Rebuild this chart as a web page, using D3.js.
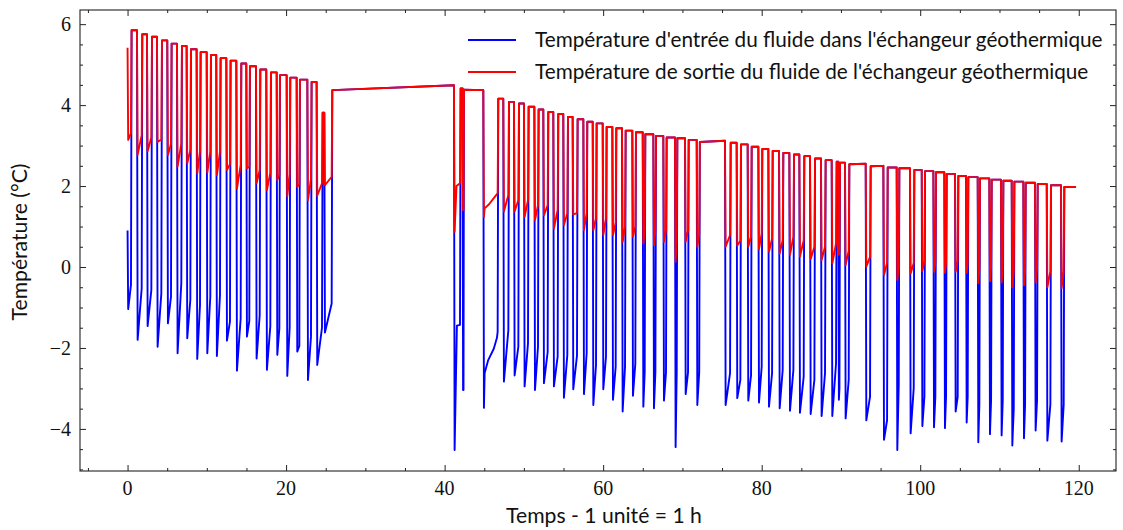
<!DOCTYPE html>
<html><head><meta charset="utf-8">
<script src="https://cdn.jsdelivr.net/npm/d3@7"></script>
<style>body{margin:0;background:#fff} svg{display:block}</style>
</head><body>
<svg id="c" width="1123" height="530"></svg>
<script>
// ---------- data ----------
const seriesNames = [
  "Température d'entrée du fluide dans l'échangeur géothermique",
  "Température de sortie du fluide de l'échangeur géothermique"
];
const startTime = 0, startOutlet = 5.42, startInlet = 0.90;
const endTime = 119.66;
// pump-on instants (h) and pump-off instants (h)
const onTimes = [0.00,1.19,2.45,3.71,5.01,6.23,7.45,8.71,9.98,11.19,12.46,13.72,14.98,16.20,17.50,18.81,20.07,21.33,22.68,23.85,24.82,
  41.18,42.27,44.88,47.40,48.75,50.01,51.32,52.45,53.71,54.97,56.15,57.50,58.68,59.94,61.16,62.38,63.68,64.99,66.33,67.59,69.06,70.33,71.80,
  75.37,76.84,78.23,79.58,80.84,82.19,83.49,84.75,86.10,87.48,88.83,89.67,90.51,93.12,95.35,97.03,98.71,100.19,101.66,103.04,104.39,105.78,107.25,108.72,110.19,111.54,113.01,114.48,115.96,117.76];
const offTimes = [0.51,1.86,3.08,4.34,5.56,6.86,8.00,9.22,10.52,11.74,13.00,14.35,15.44,16.75,18.09,19.23,20.53,21.75,23.22,24.61,25.83,
  42.02,42.44,46.77,48.12,49.38,50.60,51.86,53.08,54.34,55.56,56.78,58.00,59.18,60.44,61.66,62.84,64.14,65.32,66.67,68.01,69.36,70.79,72.20,
  76.09,77.39,78.74,80.08,81.39,82.73,84.08,85.38,86.73,88.07,89.46,89.88,91.06,93.75,95.90,97.37,99.26,100.61,101.99,103.34,104.81,106.07,107.54,109.02,110.49,111.88,113.31,114.82,116.50,118.18];
// temperature (°C) at start / end of each idle period that follows a pump-off
const plateauStart = [5.85,5.75,5.69,5.60,5.52,5.46,5.38,5.31,5.24,5.16,5.10,5.03,4.96,4.88,4.81,4.74,4.68,4.63,4.57,3.81,4.37,
  4.41,4.38,4.16,4.08,4.04,3.96,3.89,3.83,3.78,3.71,3.65,3.59,3.55,3.46,3.43,3.37,3.33,3.28,3.24,3.20,3.18,3.14,3.09,
  3.07,3.03,2.97,2.92,2.87,2.82,2.78,2.74,2.68,2.64,2.60,2.58,2.54,2.49,2.46,2.44,2.40,2.37,2.34,2.30,2.25,2.22,2.19,2.16,2.13,2.11,2.08,2.05,2.02,1.98];
const plateauEnd = [5.85,5.75,5.69,5.60,5.52,5.46,5.38,5.31,5.24,5.16,5.10,5.03,4.96,4.88,4.81,4.74,4.68,4.63,4.57,3.81,4.49,
  4.41,4.37,4.16,4.08,4.04,3.96,3.89,3.83,3.78,3.71,3.65,3.59,3.55,3.46,3.43,3.37,3.33,3.28,3.24,3.20,3.18,3.14,3.12,
  3.07,3.03,2.97,2.92,2.87,2.82,2.78,2.74,2.68,2.64,2.60,2.58,2.55,2.50,2.46,2.44,2.40,2.37,2.34,2.30,2.25,2.22,2.19,2.16,2.13,2.11,2.08,2.05,2.02,1.98];
// outlet (red) during pump-on: value just after switching on, value just before switching off
const outletDip = [3.14,2.77,2.86,3.09,2.77,2.48,2.56,2.31,2.33,2.27,2.40,1.94,2.44,2.07,1.90,2.15,1.75,1.98,1.65,1.76,2.02,
  0.87,1.41,1.24,1.37,1.37,1.24,1.16,1.28,0.95,1.04,1.30,0.91,0.91,0.79,0.79,0.62,0.75,0.58,0.54,0.62,0.13,0.62,0.50,
  0.50,0.53,0.50,0.44,0.38,0.33,0.30,0.26,0.20,0.17,0.09,0.30,0.05,0.01,-0.20,-0.32,-0.16,-0.10,-0.12,-0.14,-0.12,-0.14,-0.40,-0.35,-0.38,-0.50,-0.45,-0.38,-0.50,-0.52];
const outletEnd = [3.30,3.26,3.20,3.15,3.04,3.05,2.89,2.85,2.85,2.85,2.54,2.52,2.48,2.40,2.33,2.27,2.29,2.04,2.17,2.07,2.23,
  2.07,1.41,1.83,1.78,1.65,1.65,1.53,1.53,1.41,1.33,1.33,1.33,1.20,1.20,1.10,1.00,1.00,0.90,0.90,0.90,0.60,0.90,0.80,
  0.79,0.65,0.75,0.83,0.70,0.66,0.75,0.66,0.50,0.50,0.58,0.40,0.40,0.25,0.10,0.00,0.10,0.15,0.10,0.10,0.15,0.10,-0.05,0.00,-0.05,-0.10,-0.10,-0.05,-0.10,-0.10];
// inlet (blue) during pump-on: minimum just after switching on, value just before switching off
const inletMin = [-1.04,-1.80,-1.46,-1.97,-1.39,-2.13,-1.76,-2.27,-2.13,-2.20,-1.82,-2.56,-1.72,-2.26,-2.54,-2.17,-2.69,-2.09,-2.79,-2.42,-1.62,
  -4.52,-3.04,-3.48,-2.83,-2.68,-2.95,-3.04,-2.87,-2.95,-3.23,-3.02,-3.14,-3.41,-3.02,-3.28,-3.57,-3.18,-3.45,-3.49,-3.30,-4.45,-3.14,-3.41,
  -3.41,-3.24,-3.30,-3.35,-3.45,-3.49,-3.55,-3.60,-3.63,-3.68,-3.68,-3.28,-3.74,-3.79,-4.27,-4.52,-4.11,-3.93,-3.96,-3.98,-3.57,-3.84,-4.33,-4.13,-4.16,-4.41,-4.23,-4.04,-4.29,-4.31];
const inletEnd = [-0.44,-0.53,-0.57,-0.65,-0.73,-0.40,-0.81,-0.94,-0.73,-0.69,-1.35,-1.27,-1.33,-1.19,-1.46,-1.52,-1.50,-1.95,-1.72,-1.50,-0.90,
  -1.43,-3.04,-1.60,-1.56,-1.97,-1.88,-1.97,-2.10,-2.21,-2.17,-2.19,-2.13,-2.42,-2.21,-2.46,-2.46,-2.38,-2.60,-2.60,-2.60,-2.60,-2.60,-2.60,
  -2.62,-2.79,-2.67,-2.46,-2.62,-2.54,-2.54,-2.71,-2.79,-2.62,-2.38,-3.00,-2.79,-3.20,-3.78,-2.90,-3.00,-3.20,-3.20,-3.20,-3.20,-3.20,-3.40,-3.30,-3.30,-3.50,-3.40,-3.30,-3.40,-3.40];
// extra intermediate readings inside the two long pump-on periods after the pause
const outletExtra = [[41.50, 2.00], [45.05, 1.45], [45.60, 1.55], [46.40, 1.75]];
const inletExtra = [[41.55, -1.45], [45.05, -2.62], [45.50, -2.30], [46.20, -2.02], [46.60, -1.75]];
const xTicks = [0,20,40,60,80,100,120];
const yTicks = [-4,-2,0,2,4,6];
const xLabel = "Temps - 1 unité = 1 h";
const yLabel = "Température (°C)";

// ---------- build series ----------
const outlet = [[startTime, startOutlet]];
const inlet = [[startTime, startInlet]];
onTimes.forEach((on, i) => {
  const off = offTimes[i];
  const d = Math.min(0.08, (off - on) / 3);
  if (i > 0) { outlet.push([on, plateauEnd[i-1]]); inlet.push([on, plateauEnd[i-1]]); }
  outlet.push([on + d, outletDip[i]], [off - d, outletEnd[i]], [off, plateauStart[i]]);
  inlet.push([on + d, inletMin[i]], [off - d, inletEnd[i]], [off, plateauStart[i]]);
});
outlet.push([endTime, plateauEnd[plateauEnd.length-1]]);
inlet.push([endTime, plateauEnd[plateauEnd.length-1]]);
outlet.push(...outletExtra); inlet.push(...inletExtra);
outlet.sort((a, b) => a[0] - b[0]);
inlet.sort((a, b) => a[0] - b[0]);

// ---------- layout ----------
const L = 80, R = 1116, T = 10, B = 471;
const svg = d3.select("#c");
const x = d3.scaleLinear().domain([-6.0, 124.7]).range([L, R]);
const y = d3.scaleLinear().domain([-5.04, 6.35]).range([B, T]);

const line = d3.line().x(d => x(d[0])).y(d => y(d[1]));
const g = svg.append("g");
g.append("defs").append("clipPath").attr("id","clip").append("rect")
  .attr("x", L).attr("y", T).attr("width", R-L).attr("height", B-T);
g.append("path").datum(inlet).attr("d", line).attr("fill","none")
  .attr("stroke","#0000ff").attr("stroke-width",1.9).attr("stroke-linejoin","round").attr("clip-path","url(#clip)");
g.append("path").datum(outlet).attr("d", line).attr("fill","none")
  .attr("stroke","#ff0000").attr("stroke-width",1.9).attr("stroke-linejoin","round").attr("clip-path","url(#clip)");

// axes: ticks inward on all four sides
const axColor = "#222";
const xMinor = d3.range(-5, 125, 5).filter(v => !xTicks.includes(v));
const yMinor = d3.range(-5, 6.5, 0.5).filter(v => !yTicks.includes(v) && y(v) > T && y(v) < B);
function axisGroup(axisFn, scale, ticks, size, transform) {
  svg.append("g").attr("transform", transform)
    .call(axisFn(scale).tickValues(ticks).tickSize(size).tickFormat(""))
    .call(s => s.select(".domain").remove())
    .call(s => s.selectAll("line").attr("stroke", axColor).attr("stroke-width", 1));
}
axisGroup(d3.axisTop, x, xTicks, 6, `translate(0,${B})`);
axisGroup(d3.axisTop, x, xMinor, 3, `translate(0,${B})`);
axisGroup(d3.axisBottom, x, xTicks, 6, `translate(0,${T})`);
axisGroup(d3.axisBottom, x, xMinor, 3, `translate(0,${T})`);
axisGroup(d3.axisRight, y, yTicks, 6, `translate(${L},0)`);
axisGroup(d3.axisRight, y, yMinor, 3, `translate(${L},0)`);
axisGroup(d3.axisLeft, y, yTicks, 6, `translate(${R},0)`);
axisGroup(d3.axisLeft, y, yMinor, 3, `translate(${R},0)`);
svg.append("rect").attr("x", L).attr("y", T).attr("width", R-L).attr("height", B-T)
  .attr("fill","none").attr("stroke", axColor).attr("stroke-width", 1.1);

const serif = "'Liberation Serif','DejaVu Serif',serif";
const sans = "Lato,'Open Sans','DejaVu Sans',sans-serif";
const fmt = v => (v < 0 ? "\u2212" : "") + Math.abs(v);
svg.append("g").selectAll("text").data(xTicks).join("text")
  .attr("x", d => x(d)).attr("y", 495).attr("text-anchor","middle")
  .attr("font-family", serif).attr("font-size", 20).attr("fill","#111").text(fmt);
svg.append("g").selectAll("text").data(yTicks).join("text")
  .attr("x", 71).attr("y", d => y(d) + 7).attr("text-anchor","end")
  .attr("font-family", serif).attr("font-size", 20).attr("fill","#111").text(fmt);

function fitText(sel, width) {
  const w = sel.node().getComputedTextLength();
  const fs = parseFloat(sel.attr("font-size"));
  const nf = fs * width / w;
  sel.attr("font-size", nf);
  return nf;
}
const xl = svg.append("text").attr("x", 604).attr("y", 523).attr("text-anchor","middle")
  .attr("font-family", sans).attr("font-size", 17).attr("fill","#111").text(xLabel);
const labelSize = fitText(xl, 196);
svg.append("text").attr("transform", "translate(27,242) rotate(-90)").attr("text-anchor","middle")
  .attr("font-family", sans).attr("font-size", labelSize).attr("fill","#111").text(yLabel);

// legend
const legColors = ["#0000ff", "#ff0000"];
const legY = [40, 72];
let legSize = 18;
seriesNames.forEach((name, i) => {
  svg.append("line").attr("x1", 468).attr("x2", 516).attr("y1", legY[i]).attr("y2", legY[i])
    .attr("stroke", legColors[i]).attr("stroke-width", 1.9);
  const t = svg.append("text").attr("x", 535).attr("y", legY[i]).attr("dy", "0.35em")
    .attr("font-family", sans).attr("font-size", legSize).attr("fill","#111").text(name);
  if (i === 0) legSize = fitText(t, 568);
});
</script>
</body></html>
